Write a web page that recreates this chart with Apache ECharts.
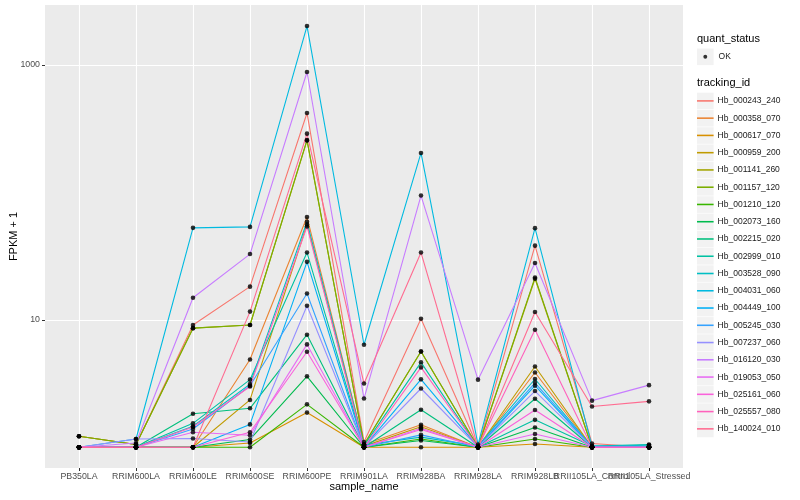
<!DOCTYPE html>
<html><head><meta charset="utf-8">
<script src="https://cdn.jsdelivr.net/npm/echarts@6/dist/echarts.min.js"></script>
<style>html,body{margin:0;padding:0;background:#fff}#c{width:800px;height:500px}</style>
</head><body><div id="c"></div>
<script>
const categories = ['PB350LA','RRIM600LA','RRIM600LE','RRIM600SE','RRIM600PE','RRIM901LA','RRIM928BA','RRIM928LA','RRIM928LB','RRII105LA_Control','RRII105LA_Stressed'];
const trackingIds = ['Hb_000243_240','Hb_000358_070','Hb_000617_070','Hb_000959_200','Hb_001141_260','Hb_001157_120','Hb_001210_120','Hb_002073_160','Hb_002215_020','Hb_002999_010','Hb_003528_090','Hb_004031_060','Hb_004449_100','Hb_005245_030','Hb_007237_060','Hb_016120_030','Hb_019053_050','Hb_025161_060','Hb_025557_080','Hb_140024_010'];
const yTickLabels = [10, 1000];

// FPKM + 1 per sample (order of categories)
const hb_000243_240 = [1.22,1.05,9.1,18.2,420,1.1,10.2,1.0,38.2,1.07,1.0];
const hb_000358_070 = [1,1,1.0,4.88,64,1.05,1.5,1.0,3.86,1.0,1.02];
const hb_000617_070 = [1,1,1.0,1.08,1.87,1.0,1.0,1.0,1.06,1.0,1.0];
const hb_000959_200 = [1,1,1.0,2.35,56,1.02,1.45,1.0,4.3,1.0,1.0];
const hb_001141_260 = [1.22,1.05,8.6,9.1,255,1.05,5.64,1.0,21.0,1.0,1.0];
const hb_001157_120 = [1.22,1.05,8.6,9.1,258,1.05,5.64,1.0,21.5,1.0,1.0];
const hb_001210_120 = [1,1,1.0,1.0,2.17,1.0,1.16,1.0,1.16,1.0,1.0];
const hb_002073_160 = [1,1,1.0,1.15,3.6,1.0,1.13,1.0,1.43,1.0,1.0];
const hb_002215_020 = [1,1,1.83,2.02,7.64,1.0,1.97,1.0,2.4,1.0,1.0];
const hb_002999_010 = [1,1,1.54,3.39,33.7,1.03,4.63,1.0,1.64,1.02,1.05];
const hb_003528_090 = [1,1,1.46,3.13,58.8,1.04,1.2,1.02,3.43,1.0,1.04];
const hb_004031_060 = [1,1.16,52.7,53.6,2020,6.37,204,1.05,52.4,1.02,1.02];
const hb_004449_100 = [1,1,1.0,1.51,28.5,1.0,3.41,1.0,3.04,1.0,1.0];
const hb_005245_030 = [1,1,1.39,3.04,16.1,1.0,1.25,1.0,3.2,1.0,1.0];
const hb_007237_060 = [1,1.16,1.17,1.1,12.9,1.0,2.89,1.0,2.76,1.0,1.0];
const hb_016120_030 = [1,1.08,14.9,32.8,881,2.41,94.4,3.39,27.9,2.32,3.07];
const hb_019053_050 = [1,1,1.31,1.24,6.41,1.0,1.41,1.0,1.27,1.0,1.0];
const hb_025161_060 = [1,1,1.0,1.31,5.61,1.0,1.38,1.0,1.96,1.0,1.0];
const hb_025557_080 = [1,1,1.44,3.0,54,1.0,4.23,1.0,8.35,1.0,1.0];
const hb_140024_010 = [1,1,1.0,11.6,289,3.16,33.7,1.0,11.5,2.09,2.29];

const seriesValues = [hb_000243_240,hb_000358_070,hb_000617_070,hb_000959_200,hb_001141_260,hb_001157_120,hb_001210_120,hb_002073_160,hb_002215_020,hb_002999_010,hb_003528_090,hb_004031_060,hb_004449_100,hb_005245_030,hb_007237_060,hb_016120_030,hb_019053_050,hb_025161_060,hb_025557_080,hb_140024_010];
const palette = ['#F8766D','#EA8331','#D89000','#C09B00','#A3A500','#7CAE00','#39B600','#00BB4E','#00BF7D','#00C1A3','#00BFC4','#00BAE0','#00B0F6','#35A2FF','#9590FF','#C77CFF','#E76BF3','#FA62DB','#FF62BC','#FF6C91'];

const FONT = 'Liberation Sans, Arial, Helvetica, sans-serif';
const chart = echarts.init(document.getElementById('c'), null, {renderer: 'canvas'});

const lineSeries = trackingIds.map((id, i) => ({
  name: id, type: 'line', xAxisIndex: 1, yAxisIndex: 1,
  data: seriesValues[i], symbol: 'none', showSymbol: false,
  lineStyle: {width: 1.1, color: palette[i]}, itemStyle: {color: palette[i]},
  emphasis: {disabled: true}, silent: true, z: 2
}));
const pointData = [];
seriesValues.forEach(arr => arr.forEach((v, j) => pointData.push([j, v])));
const pointSeries = {
  name: 'OK', type: 'scatter', xAxisIndex: 1, yAxisIndex: 1, data: pointData,
  symbol: 'circle', symbolSize: 4.6, itemStyle: {color: '#000'}, silent: true, z: 3
};

const legendStep = 17.26;
const graphics = [
  {type: 'text', left: 697, top: 33, style: {text: 'quant_status', font: '11px ' + FONT, fill: '#000'}},
  {type: 'text', left: 697, top: 77, style: {text: 'tracking_id', font: '11px ' + FONT, fill: '#000'}},
  {type: 'rect', shape: {x: 697, y: 48.5, width: 16.6, height: 16.6}, style: {fill: '#F2F2F2'}}
];
trackingIds.forEach((id, i) => {
  graphics.push({type: 'rect', shape: {x: 697, y: 92.7 + i * legendStep, width: 16.6, height: 16.6}, style: {fill: '#F2F2F2'}});
});

chart.setOption({
  animation: false,
  backgroundColor: '#fff',
  textStyle: {fontFamily: FONT},
  grid: [
    {left: 45, right: 117, top: 5, bottom: 32, show: true, backgroundColor: '#EBEBEB', borderWidth: 0},
    {left: 79, right: 151, top: 5, bottom: 32}
  ],
  xAxis: [
    {gridIndex: 0, type: 'value', show: false, min: 0, max: 1},
    {gridIndex: 1, type: 'category', data: categories, boundaryGap: false,
     axisLine: {show: false},
     axisTick: {show: true, length: 3, interval: 0, lineStyle: {color: '#333', width: 1}},
     axisLabel: {interval: 0, fontSize: 8.8, color: '#4D4D4D', margin: 4, fontFamily: FONT},
     splitLine: {show: true, interval: 0, lineStyle: {color: '#fff', width: 1.1}},
     name: 'sample_name', nameLocation: 'middle', nameGap: 13.5, nameMoveOverlap: false,
     nameTextStyle: {fontSize: 11, color: '#000', fontFamily: FONT}}
  ],
  yAxis: [
    {gridIndex: 0, type: 'log', logBase: 10, min: 0.687, max: 2955,
     axisLine: {show: false},
     axisTick: {show: true, length: 3, customValues: yTickLabels, lineStyle: {color: '#333', width: 1}},
     axisLabel: {customValues: yTickLabels, fontSize: 8.8, color: '#4D4D4D', margin: 5, fontFamily: FONT,
                 formatter: v => String(Math.round(v))},
     splitLine: {show: true, lineStyle: {color: '#fff', width: 1}},
     name: 'FPKM + 1', nameLocation: 'middle', nameGap: 26, nameRotate: 90, nameMoveOverlap: false,
     nameTextStyle: {fontSize: 11, color: '#000', fontFamily: FONT}},
    {gridIndex: 1, type: 'log', logBase: 10, min: 0.687, max: 2955, show: false}
  ],
  legend: [
    {data: trackingIds, orient: 'vertical', left: 697, top: 92.7, padding: 0,
     itemWidth: 16.6, itemHeight: 16.6, itemGap: legendStep - 16.6, selectedMode: false,
     icon: 'path://M0,0L0,0M0,7.6L17,7.6L17,9.2L0,9.2ZM17,17L17,17',
     itemStyle: {borderWidth: 0},
     textStyle: {fontSize: 8.5, color: '#1A1A1A', fontFamily: FONT, padding: [0, 0, 0, -1]}},
    {data: ['OK'], orient: 'vertical', left: 697, top: 48.5, padding: 0,
     itemWidth: 16.6, itemHeight: 16.6, selectedMode: false,
     icon: 'path://M0,0L0,0M6.5,8.5A2,2 0 1 1 10.5,8.5A2,2 0 1 1 6.5,8.5ZM17,17L17,17',
     itemStyle: {borderWidth: 0},
     textStyle: {fontSize: 8.5, color: '#1A1A1A', fontFamily: FONT}}
  ],
  graphic: graphics,
  series: [...lineSeries, pointSeries]
});
</script></body></html>
